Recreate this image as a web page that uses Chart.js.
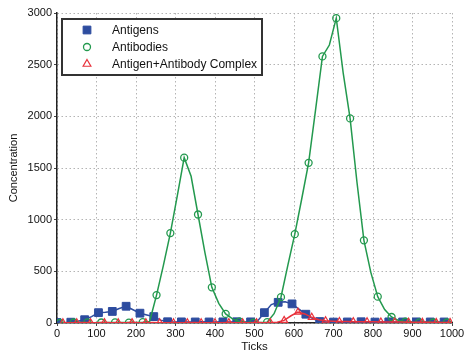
<!DOCTYPE html>
<html>
<head>
<meta charset="utf-8">
<script src="https://cdn.jsdelivr.net/npm/chart.js@4/dist/chart.umd.min.js"></script>
<style>
  html, body { margin: 0; padding: 0; background: #fff; }
  #wrap { width: 468px; height: 358px; }
</style>
</head>
<body>
<div id="wrap"><canvas id="chart" width="468" height="358"></canvas></div>
<script>
// Simulation clock: samples every 17.5 ticks (each series is recorded with its own phase)
const baseTicks = [
  0, 17.5, 35, 52.5, 70, 87.5, 105, 122.5, 140, 157.5,
  175, 192.5, 210, 227.5, 245, 262.5, 280, 297.5, 315, 332.5,
  350, 367.5, 385, 402.5, 420, 437.5, 455, 472.5, 490, 507.5,
  525, 542.5, 560, 577.5, 595, 612.5, 630, 647.5, 665, 682.5,
  700, 717.5, 735, 752.5, 770, 787.5, 805, 822.5, 840, 857.5,
  875, 892.5, 910, 927.5, 945, 962.5, 980, 997.5
];
const antigenPhase = 0;
const antibodyPhase = 7;
const complexPhase = 15;

const antigens = [
  5, 3, 8, 18, 32, 62, 100, 104, 112, 140,
  162, 128, 95, 78, 62, 28, 12, 10, 11, 9,
  10, 12, 10, 9, 11, 10, 12, 10, 11, 18,
  100, 178, 200, 205, 185, 135, 85, 42, 14, 10,
  9, 11, 10, 10, 12, 10, 9, 10, 11, 10,
  10, 9, 11, 10, 10, 9, 10, 10
];
const antibodies = [
  0, 2, 5, 4, 6, 3, 5, 4, 6, 5,
  4, 6, 8, 15, 270, 560, 870, 1230, 1600, 1420,
  1050, 680, 345, 190, 88, 40, 14, 6, 4, 5,
  8, 90, 250, 560, 860, 1200, 1550, 2060, 2580, 2690,
  2950, 2420, 1980, 1360, 800, 490, 255, 130, 58, 25,
  12, 8, 6, 7, 5, 6, 5, 4
];
const complexes = [
  2, 3, 2, 4, 3, 3, 4, 3, 2, 3,
  4, 3, 3, 4, 3, 3, 2, 3, 3, 4,
  3, 3, 2, 3, 4, 3, 3, 3, 4, 3,
  5, 8, 25, 70, 105, 88, 55, 32, 22, 18,
  15, 14, 13, 12, 12, 11, 10, 10, 9, 9,
  8, 8, 7, 7, 6, 6, 6, 5
];

const xTickValues = [0, 100, 200, 300, 400, 500, 600, 700, 800, 900, 1000];
const yTickValues = [0, 500, 1000, 1500, 2000, 2500, 3000];

const seriesNames = ['Antigens', 'Antibodies', 'Antigen+Antibody Complex'];

function toPoints(values, phase) {
  return values.map((v, i) => ({ x: baseTicks[i] + phase, y: v }));
}
// markers on every other sample
const markerEvery = r => (c => (c.dataIndex % 2 === 0 ? r : 0));

Chart.defaults.font.family = "'Liberation Sans', Arial, sans-serif";
Chart.defaults.color = '#111';

// Boxed legend placed inside the top-left of the plot area
const boxLegend = {
  id: 'boxLegend',
  afterDatasetsDraw(chart) {
    const { ctx, chartArea } = chart;
    const x0 = chartArea.left + 5, y0 = chartArea.top + 6, w = 200, h = 56;
    ctx.save();
    ctx.fillStyle = '#ffffff';
    ctx.fillRect(x0, y0, w, h);
    ctx.lineWidth = 2;
    ctx.strokeStyle = '#333333';
    ctx.strokeRect(x0, y0, w, h);
    ctx.font = "12px 'Liberation Sans', Arial, sans-serif";
    ctx.textBaseline = 'middle';
    ctx.textAlign = 'left';
    chart.data.datasets.forEach((ds, i) => {
      const cy = y0 + 11 + i * 17;
      ctx.fillStyle = ds.pointBackgroundColor;
      ctx.strokeStyle = ds.borderColor;
      ctx.lineWidth = ds.pointBorderWidth;
      Chart.helpers.drawPoint(ctx, {
        pointStyle: ds.pointStyle,
        radius: ds.legendRadius,
        borderWidth: ds.pointBorderWidth,
        rotation: 0
      }, x0 + 25, cy);
      ctx.fillStyle = '#111';
      ctx.fillText(ds.label, x0 + 50, cy + 0.5);
    });
    ctx.restore();
  }
};

const blue = '#2d4c9f';
const green = '#23994e';
const red = '#e8323c';

const gridStyle = {
  color: '#b4b4b4',
  lineWidth: 1,
  drawTicks: true,
  tickLength: 3,
  tickColor: '#444'
};
const axisBorder = { display: true, color: '#222', width: 1.5, dash: [1.5, 2.5] };

new Chart(document.getElementById('chart'), {
  type: 'line',
  data: {
    datasets: [
      {
        label: seriesNames[0],
        data: toPoints(antigens, antigenPhase),
        borderColor: blue,
        borderWidth: 1.5,
        pointStyle: 'rect',
        pointRadius: markerEvery(5.5),
        legendRadius: 5.5,
        pointBackgroundColor: blue,
        pointBorderColor: blue,
        pointBorderWidth: 1,
        tension: 0,
        order: 3
      },
      {
        label: seriesNames[1],
        data: toPoints(antibodies, antibodyPhase),
        borderColor: green,
        borderWidth: 1.5,
        pointStyle: 'circle',
        pointRadius: markerEvery(3.5),
        legendRadius: 3.5,
        pointBackgroundColor: 'rgba(0,0,0,0)',
        pointBorderColor: green,
        pointBorderWidth: 1.3,
        tension: 0,
        order: 2
      },
      {
        label: seriesNames[2],
        data: toPoints(complexes, complexPhase),
        borderColor: red,
        borderWidth: 1.5,
        pointStyle: 'triangle',
        pointRadius: markerEvery(4),
        legendRadius: 4.5,
        pointBackgroundColor: 'rgba(0,0,0,0)',
        pointBorderColor: red,
        pointBorderWidth: 1.2,
        tension: 0,
        order: 1
      }
    ]
  },
  options: {
    responsive: false,
    animation: false,
    events: [],
    layout: { padding: { left: 0, top: 13, right: 16, bottom: 0 } },
    plugins: {
      legend: { display: false },
      tooltip: { enabled: false }
    },
    scales: {
      x: {
        type: 'linear',
        min: 0,
        max: 1000,
        afterFit(scale) { scale.height = 35; },
        afterBuildTicks(scale) { scale.ticks = xTickValues.map(v => ({ value: v })); },
        ticks: { padding: 1, font: { size: 11 }, color: '#111', maxRotation: 0, callback: v => String(v) },
        grid: gridStyle,
        border: axisBorder,
        title: {
          display: true,
          text: 'Ticks',
          font: { size: 11.5 },
          color: '#111',
          padding: { top: 0, bottom: 4 }
        }
      },
      y: {
        min: 0,
        max: 3000,
        afterFit(scale) { scale.width = 57; },
        afterBuildTicks(scale) { scale.ticks = yTickValues.map(v => ({ value: v })); },
        ticks: { padding: 2, font: { size: 11 }, color: '#111', callback: v => String(v) },
        grid: gridStyle,
        border: axisBorder,
        title: {
          display: true,
          text: 'Concentration',
          font: { size: 11 },
          color: '#111',
          padding: { top: 7, bottom: 0 }
        }
      }
    }
  },
  plugins: [boxLegend]
});
</script>
</body>
</html>
